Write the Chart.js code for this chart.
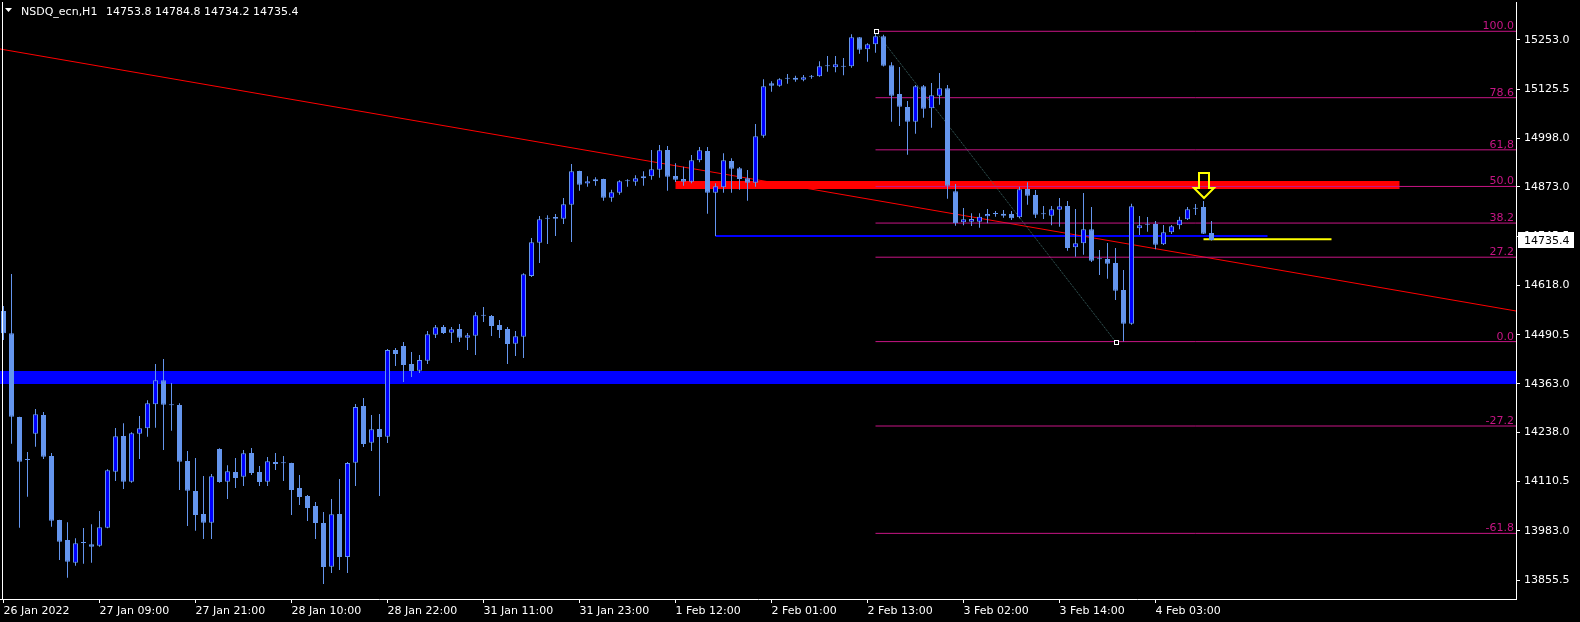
<!DOCTYPE html>
<html>
<head>
<meta charset="utf-8">
<title>NSDQ_ecn,H1</title>
<script src="https://cdn.jsdelivr.net/npm/chart.js@4.4.1/dist/chart.umd.min.js"></script>
<style>
  html, body { margin: 0; padding: 0; background: #000; }
  #wrap { width: 1580px; height: 622px; }
</style>
</head>
<body>
<div id="wrap"><canvas id="chart" width="1580" height="622"></canvas></div>
<script>
// --- H1 bars, 26 Jan 21:00 -> 4 Feb 08:00 ---
const opens = [
  14551.8, 14494.1, 14277.5, 14166.3, 14234.3, 14282.7, 14176.6, 14011.0, 13959.3, 13900.5,
  13951.5, 13948.1, 13944.5, 13991.1, 14136.0, 14228.4, 14110.1, 14234.3, 14248.3, 14310.4,
  14372.5, 14307.8, 14308.6, 14163.7, 14086.0, 14026.5, 14004.0, 14194.7, 14110.1, 14135.2,
  14123.0, 14184.4, 14135.2, 14110.1, 14161.1, 14157.7, 14158.5, 14093.8, 14073.1, 14047.2,
  14003.2, 13890.2, 14026.5, 13915.3, 14159.3, 14306.0, 14211.0, 14246.5, 14226.5, 14450.9,
  14461.2, 14414.7, 14397.3, 14423.2, 14490.5, 14510.4, 14495.6, 14505.2, 14482.7, 14487.9,
  14539.6, 14538.9, 14515.6, 14505.2, 14467.2, 14485.3, 14642.4, 14728.5, 14790.6, 14790.6,
  14790.6, 14826.8, 14914.0, 14881.7, 14887.4, 14893.3, 14845.0, 14857.9, 14887.4, 14886.3,
  14895.1, 14900.3, 14917.4, 14968.4, 14901.1, 14893.3, 14886.3, 14941.7, 14965.8, 14857.9,
  14871.9, 14939.9, 14921.0, 14895.1, 14883.8, 15005.4, 15141.0, 15134.8, 15152.9, 15150.3,
  15150.3, 15158.0, 15159.1, 15185.0, 15182.4, 15183.9, 15185.0, 15260.0, 15228.9, 15241.9,
  15262.6, 15187.5, 15113.3, 15079.6, 15041.6, 15133.2, 15076.3, 15108.9, 15128.0, 14861.5,
  14781.3, 14782.8, 14782.8, 14796.8, 14802.8, 14798.4, 14802.8, 14794.2, 14867.5, 14851.9,
  14802.0, 14798.4, 14813.9, 14823.5, 14716.6, 14727.0, 14763.2, 14685.6, 14686.3, 14676.0,
  14606.1, 14518.9, 14765.8, 14775.1, 14776.9, 14724.4, 14755.4, 14773.6, 14789.1, 14816.5,
  14820.9, 14753.8
];
const highs = [
  14564.7, 14647.5, 14278.0, 14187.0, 14298.2, 14290.5, 14184.4, 14011.5, 14005.0, 13963.6,
  13990.3, 13999.9, 14034.3, 14142.2, 14249.1, 14261.2, 14237.9, 14280.1, 14320.7, 14414.7,
  14427.6, 14365.5, 14313.0, 14189.5, 14171.4, 14124.9, 14130.0, 14196.5, 14152.5, 14171.4,
  14192.1, 14197.3, 14150.7, 14174.0, 14184.4, 14176.6, 14159.0, 14127.4, 14075.7, 14057.6,
  14031.7, 14065.3, 14117.1, 14161.1, 14311.2, 14326.7, 14282.7, 14285.3, 14453.5, 14456.1,
  14471.6, 14445.7, 14437.9, 14500.0, 14515.6, 14515.6, 14510.4, 14518.1, 14494.9, 14549.2,
  14562.1, 14541.4, 14528.5, 14510.4, 14500.0, 14649.3, 14740.7, 14797.6, 14799.4, 14802.8,
  14844.2, 14932.2, 14914.5, 14900.3, 14897.7, 14893.8, 14865.6, 14890.0, 14892.6, 14902.9,
  14913.3, 14968.4, 14981.3, 14978.7, 14934.0, 14925.2, 14955.4, 14976.1, 14976.1, 14882.2,
  14959.8, 14946.9, 14924.4, 14916.6, 15035.7, 15151.3, 15146.1, 15153.9, 15165.0, 15160.6,
  15162.4, 15162.4, 15197.9, 15211.6, 15211.6, 15206.4, 15267.8, 15260.5, 15244.5, 15274.0,
  15266.7, 15195.3, 15183.1, 15095.2, 15136.6, 15136.6, 15141.7, 15167.6, 15136.6, 14880.4,
  14818.3, 14804.6, 14804.6, 14815.7, 14810.5, 14813.1, 14810.5, 14873.4, 14884.8, 14864.9,
  14823.5, 14823.5, 14844.2, 14836.4, 14815.7, 14857.1, 14820.9, 14709.6, 14727.7, 14714.8,
  14657.9, 14829.4, 14797.6, 14795.0, 14784.7, 14774.3, 14774.3, 14795.8, 14820.9, 14828.7,
  14836.4, 14784.8
];
const lows = [
  14476.8, 14208.4, 13991.1, 14071.3, 14200.7, 14168.8, 13993.7, 13907.5, 13861.7, 13892.8,
  13897.9, 13900.5, 13941.9, 13989.5, 14111.9, 14091.2, 14107.5, 14168.8, 14226.5, 14249.8,
  14192.1, 14242.1, 14088.6, 13995.5, 13983.3, 13961.8, 13961.8, 14107.5, 14065.3, 14093.8,
  14099.0, 14127.4, 14099.0, 14099.0, 14140.4, 14111.9, 14023.9, 14049.8, 14008.4, 13961.8,
  13845.4, 13873.9, 13881.6, 13873.9, 14099.0, 14199.9, 14189.5, 14073.1, 14210.2, 14409.5,
  14368.1, 14381.0, 14391.4, 14414.7, 14481.9, 14492.3, 14469.0, 14471.6, 14450.9, 14437.9,
  14523.3, 14487.1, 14481.9, 14414.7, 14435.3, 14430.2, 14639.8, 14676.0, 14725.2, 14745.9,
  14776.9, 14730.3, 14863.1, 14873.4, 14876.0, 14837.2, 14834.6, 14852.7, 14873.4, 14876.0,
  14876.0, 14891.5, 14896.7, 14863.1, 14885.6, 14876.0, 14882.2, 14936.5, 14803.5, 14746.0,
  14857.9, 14857.9, 14865.6, 14837.2, 14873.4, 15000.2, 15119.2, 15132.2, 15139.9, 15145.1,
  15146.1, 15152.9, 15158.0, 15171.0, 15169.4, 15161.7, 15181.3, 15217.5, 15196.8, 15220.1,
  15184.4, 15041.6, 15030.5, 14956.2, 15010.5, 15052.0, 15026.1, 15085.6, 14842.4, 14772.5,
  14773.6, 14771.7, 14767.3, 14778.7, 14795.8, 14793.2, 14787.3, 14791.7, 14826.8, 14792.4,
  14789.8, 14773.6, 14769.9, 14707.8, 14692.3, 14697.5, 14678.6, 14644.9, 14635.4, 14580.3,
  14472.6, 14516.3, 14748.4, 14757.0, 14711.4, 14722.6, 14751.0, 14763.2, 14787.3, 14800.2,
  14751.0, 14734.2
];
const closes = [
  14494.1, 14278.3, 14161.9, 14166.3, 14284.5, 14174.8, 14009.2, 13954.8, 13903.1, 13950.7,
  13951.5, 13941.9, 13992.1, 14139.6, 14227.6, 14110.1, 14235.3, 14248.3, 14313.0, 14372.5,
  14309.3, 14307.8, 14161.9, 14086.8, 14023.9, 14004.0, 14124.1, 14109.3, 14137.0, 14119.7,
  14183.6, 14132.6, 14109.3, 14162.9, 14155.9, 14157.7, 14088.6, 14070.5, 14042.0, 14003.2,
  13889.4, 14025.7, 13915.3, 14158.5, 14303.4, 14207.7, 14245.7, 14225.8, 14450.9, 14440.5,
  14412.1, 14396.5, 14425.0, 14491.5, 14509.6, 14494.9, 14504.4, 14482.7, 14488.9, 14540.7,
  14539.6, 14513.0, 14502.6, 14466.4, 14486.3, 14646.7, 14729.5, 14789.1, 14790.6, 14795.0,
  14827.9, 14913.3, 14878.6, 14887.4, 14892.6, 14845.0, 14858.9, 14887.4, 14887.4, 14895.1,
  14900.3, 14918.4, 14967.6, 14899.3, 14891.5, 14886.3, 14941.7, 14967.6, 14857.9, 14874.4,
  14941.7, 14920.0, 14893.3, 14883.8, 15003.8, 15133.2, 15134.8, 15151.3, 15152.9, 15155.5,
  15156.5, 15158.0, 15185.0, 15185.0, 15190.1, 15183.9, 15260.0, 15227.9, 15241.9, 15262.6,
  15186.5, 15108.9, 15080.4, 15041.6, 15133.2, 15075.2, 15109.9, 15128.0, 14876.0, 14778.7,
  14789.1, 14789.8, 14795.8, 14802.8, 14802.8, 14803.5, 14791.7, 14866.7, 14850.1, 14801.0,
  14802.0, 14814.9, 14822.7, 14714.8, 14727.0, 14763.2, 14681.9, 14685.6, 14674.2, 14604.3,
  14518.9, 14822.7, 14773.6, 14775.1, 14723.3, 14755.4, 14770.9, 14788.0, 14814.9, 14816.5,
  14751.8, 14735.4
];

// --- axis ticks ---
const priceTicks = [15253.0, 15125.5, 14998.0, 14873.0, 14745.5, 14618.0, 14490.5, 14363.0, 14238.0, 14110.5, 13983.0, 13855.5];
const timeTickBars = [0, 12, 24, 36, 48, 60, 72, 84, 96, 108, 120, 132, 144];
const timeTickLabels = ['26 Jan 2022', '27 Jan 09:00', '27 Jan 21:00', '28 Jan 10:00', '28 Jan 22:00', '31 Jan 11:00',
  '31 Jan 23:00', '1 Feb 12:00', '2 Feb 01:00', '2 Feb 13:00', '3 Feb 02:00', '3 Feb 14:00', '4 Feb 03:00'];

// --- objects drawn on the chart (bar index / price) ---
const fibHigh = { bar: 109, price: 15275.5 };
const fibLow = { bar: 139, price: 14472.6 };
const fibLevels = [100, 78.6, 61.8, 50, 38.2, 27.2, 0, -27.2, -61.8];
const fibLabels = ['100.0', '78.6', '61,8', '50.0', '38.2', '27.2', '0.0', '-27.2', '-61.8'];
const trendStart = { bar: -0.4375, price: 15229.7 };
const trendEnd = { bar: 189.0625, price: 14551.8 };
const supportPrice = 14379.7;
const resistZone = { from: 84, to: 174.5, price: 14877.8 };
const lowLine = { from: 89, to: 158, price: 14746.0 };
const closeLine = { from: 150, to: 166, price: 14737.5 };
const arrowMark = { bar: 150, price: 14845.0 };

// visible window (includes the empty right shift)
const xMin = -0.4375, xMax = 189.0625;
const yMin = 13806.6, yMax = 15351.3;

const candleBlue = '#6495ed';
const bullFill = '#0000ff';
const fibColor = '#c71585';

Chart.defaults.font.family = '"DejaVu Sans", sans-serif';
Chart.defaults.font.size = 11;
Chart.defaults.color = '#ffffff';

const bars = opens.map((_, i) => i);
const fibPrice = lv => fibLow.price + (fibHigh.price - fibLow.price) * lv / 100;

function seg(x0, x1, p0, p1) {
  return [{ x: x0, y: p0 }, { x: x1, y: p1 }];
}
const lineBase = { type: 'line', pointRadius: 0, pointHoverRadius: 0, borderCapStyle: 'butt', tension: 0, fill: false, order: 5 };

const datasets = [
  { ...lineBase, data: seg(xMin, xMax, supportPrice, supportPrice), borderColor: '#0000ff', borderWidth: 13 },
  ...fibLevels.map(lv => ({ ...lineBase, data: seg(fibHigh.bar, xMax, fibPrice(lv), fibPrice(lv)), borderColor: fibColor, borderWidth: 1 })),
  { ...lineBase, data: seg(fibHigh.bar, fibLow.bar, fibHigh.price, fibLow.price), borderColor: '#3f6b6b', borderWidth: 1, borderDash: [1, 1] },
  { ...lineBase, data: seg(trendStart.bar, trendEnd.bar, trendStart.price, trendEnd.price), borderColor: '#ff0000', borderWidth: 1 },
  { ...lineBase, data: seg(resistZone.from, resistZone.to, resistZone.price, resistZone.price), borderColor: '#ff0000', borderWidth: 8 },
  { ...lineBase, data: seg(lowLine.from, lowLine.to, lowLine.price, lowLine.price), borderColor: '#0000ff', borderWidth: 2 },
  { ...lineBase, data: seg(closeLine.from, closeLine.to, closeLine.price, closeLine.price), borderColor: '#ffff00', borderWidth: 2 },
  // wicks
  {
    type: 'bar', order: 2, grouped: false, inflateAmount: 0,
    data: bars.map(i => ({ x: i, y: [lows[i], highs[i]] })),
    backgroundColor: candleBlue, borderWidth: 0, barThickness: 1, maxBarThickness: 1
  },
  // bodies
  {
    type: 'bar', order: 1, grouped: false, inflateAmount: 0,
    data: bars.map(i => ({ x: i, y: [opens[i], closes[i]] })),
    backgroundColor: bars.map(i => closes[i] >= opens[i] ? bullFill : candleBlue),
    borderColor: candleBlue, borderWidth: 1, borderSkipped: false,
    barThickness: 5, maxBarThickness: 5, minBarLength: 1
  }
];

const mt4Decor = {
  id: 'mt4Decor',
  beforeDraw(chart) {
    const ctx = chart.ctx;
    ctx.save();
    ctx.fillStyle = '#000';
    ctx.fillRect(0, 0, chart.width, chart.height);
    ctx.restore();
  },
  afterDatasetsDraw(chart) {
    const { ctx, chartArea } = chart;
    const x = chart.scales.x, y = chart.scales.y;
    ctx.save();

    // fibo captions
    ctx.font = '11px "DejaVu Sans"';
    ctx.fillStyle = fibColor;
    ctx.textAlign = 'right';
    ctx.textBaseline = 'alphabetic';
    fibLevels.forEach((lv, k) => {
      const py = y.getPixelForValue(fibPrice(lv));
      ctx.fillText(fibLabels[k], chartArea.right - 2, py - 2);
    });

    // fibo anchor points
    ctx.strokeStyle = '#ffffff';
    ctx.fillStyle = '#000';
    ctx.lineWidth = 1;
    [fibHigh, fibLow].forEach(pt => {
      const px = Math.round(x.getPixelForValue(pt.bar)) + 0.5;
      const py = Math.round(y.getPixelForValue(pt.price)) + 0.5;
      ctx.fillRect(px - 2, py - 2, 4, 4);
      ctx.strokeRect(px - 2, py - 2, 4, 4);
    });

    // down arrow
    const ax = Math.round(x.getPixelForValue(arrowMark.bar));
    const ay = Math.round(y.getPixelForValue(arrowMark.price));
    ctx.strokeStyle = '#ffff00';
    ctx.lineWidth = 2;
    ctx.beginPath();
    ctx.moveTo(ax - 5, ay - 25);
    ctx.lineTo(ax + 5, ay - 25);
    ctx.lineTo(ax + 5, ay - 10);
    ctx.lineTo(ax + 10, ay - 10);
    ctx.lineTo(ax, ay);
    ctx.lineTo(ax - 10, ay - 10);
    ctx.lineTo(ax - 5, ay - 10);
    ctx.closePath();
    ctx.stroke();
    ctx.restore();
  },
  afterDraw(chart) {
    const { ctx, chartArea } = chart;
    const y = chart.scales.y;
    ctx.save();

    // left frame
    ctx.fillStyle = '#ffffff';
    ctx.fillRect(2, chartArea.top, 1, chartArea.bottom - chartArea.top);

    // header
    ctx.beginPath();
    ctx.moveTo(5, 8);
    ctx.lineTo(12, 8);
    ctx.lineTo(8.5, 12);
    ctx.closePath();
    ctx.fill();
    ctx.font = '11px "DejaVu Sans"';
    ctx.textAlign = 'left';
    ctx.textBaseline = 'alphabetic';
    const last = closes.length - 1;
    ctx.fillText('NSDQ_ecn,H1', 21, 15);
    ctx.fillText([opens[last], highs[last], lows[last], closes[last]].map(v => v.toFixed(1)).join(' '), 106, 15);

    // current price box
    const py = Math.round(y.getPixelForValue(closes[last]));
    ctx.fillStyle = '#ffffff';
    ctx.fillRect(chartArea.right + 2, py - 8, 56, 16);
    ctx.fillStyle = '#000000';
    ctx.textBaseline = 'middle';
    ctx.fillText(closes[last].toFixed(1), chartArea.right + 8, py + 1);
    ctx.restore();
  }
};

// labels must not push the plot area inwards
function noLabelPadding(s) {
  s.paddingTop = 0;
  s.paddingBottom = 0;
  s.paddingLeft = 0;
  s.paddingRight = 0;
}

new Chart(document.getElementById('chart').getContext('2d'), {
  type: 'bar',
  data: { datasets },
  options: {
    responsive: false,
    animation: false,
    events: [],
    layout: { padding: { top: 2, left: 0, right: 0, bottom: 0 } },
    plugins: { legend: { display: false }, tooltip: { enabled: false } },
    scales: {
      x: {
        type: 'linear', min: xMin, max: xMax, offset: false,
        afterBuildTicks: s => { s.ticks = timeTickBars.map(v => ({ value: v })); },
        afterFit: s => { s.height = 23; noLabelPadding(s); },
        ticks: { color: '#ffffff', align: 'start', maxRotation: 0, autoSkip: false, padding: 2,
          callback: (v, i) => timeTickLabels[i] },
        grid: { drawOnChartArea: false, drawTicks: true, tickLength: 4, color: '#ffffff', offset: false },
        border: { display: true, color: '#ffffff', width: 1 }
      },
      y: {
        type: 'linear', position: 'right', min: yMin, max: yMax, beginAtZero: false,
        afterBuildTicks: s => { s.ticks = priceTicks.map(v => ({ value: v })); },
        afterFit: s => { s.width = 64; noLabelPadding(s); },
        ticks: { color: '#ffffff', padding: 4, autoSkip: false, callback: v => v.toFixed(1) },
        grid: { drawOnChartArea: false, drawTicks: true, tickLength: 4, color: '#ffffff' },
        border: { display: true, color: '#ffffff', width: 1 }
      }
    }
  },
  plugins: [mt4Decor]
});
</script>
</body>
</html>
